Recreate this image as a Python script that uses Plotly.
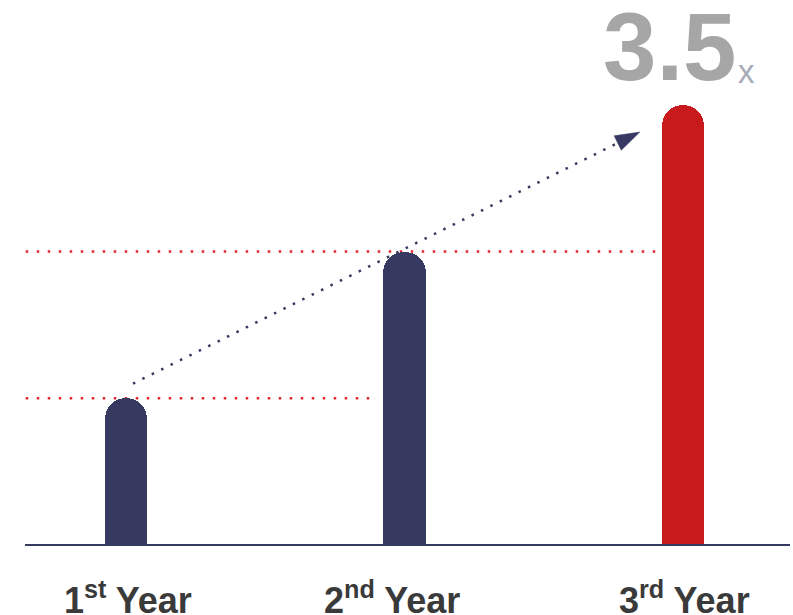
import plotly.graph_objects as go

# ---- data ----
categories = ["1st Year", "2nd Year", "3rd Year"]
tick_labels = ["1<sup>st</sup> Year", "2<sup>nd</sup> Year", "3<sup>rd</sup> Year"]
values = [1.0, 2.0, 3.0]
bar_colors = ["#363a60", "#363a60", "#c8191d"]
multiple_text = "3.5"
multiple_unit = "x"

xs = list(range(len(categories)))
bar_w = 0.151
NAVY = "#363a60"
RED = "#e3262d"
GRAY = "#a6a6a6"

fig = go.Figure()

fig.add_trace(go.Bar(
    x=xs, y=values, width=bar_w,
    marker=dict(color=bar_colors, line=dict(width=0), cornerradius="50%"),
    hoverinfo="skip",
))

# dotted arrow from first bar to last bar
fig.add_trace(go.Scatter(
    x=[xs[0] + 0.025, xs[2] - 0.155],
    y=[values[0] + 0.1, values[2] - 0.185],
    mode="lines+markers",
    line=dict(color=NAVY, width=2.5, dash="2.5px,8px"),
    marker=dict(symbol=["circle", "arrow"], size=[0, 26], color=NAVY, opacity=1,
                angleref="previous", line=dict(width=0.5, color=NAVY)),
    cliponaxis=False, hoverinfo="skip",
))

shapes = []
# baseline
shapes.append(dict(type="line", xref="paper", yref="y", x0=25/793, x1=790/793,
                   y0=0, y1=0, line=dict(color=NAVY, width=2), layer="above"))
# red reference lines at the first two bar heights
for i in range(2):
    shapes.append(dict(type="line", xref="x", yref="y",
                       x0=-0.36, x1=xs[i + 1] - bar_w / 2 - 0.022,
                       y0=values[i], y1=values[i],
                       line=dict(color=RED, width=2.5, dash="2.5px,8.5px"), layer="below"))

annotations = []
for i, lab in enumerate(tick_labels):
    annotations.append(dict(x=xs[i], y=-0.36, xref="x", yref="y", text="<b>" + lab + "</b>",
                            showarrow=False, xanchor="center", yanchor="middle",
                            xshift=(-12 if i == 1 else 2),
                            font=dict(family="Liberation Sans, Arial", size=36, color="#3a3a3a")))
annotations.append(dict(x=xs[2] - 0.05, y=values[2] + 0.395, xref="x", yref="y",
                        text="<b>" + multiple_text + "</b>", showarrow=False,
                        xanchor="center", yanchor="middle",
                        font=dict(family="Liberation Sans, Arial", size=96, color=GRAY)))
annotations.append(dict(x=xs[2] + 0.228, y=values[2] + 0.23, xref="x", yref="y",
                        text=multiple_unit, showarrow=False,
                        xanchor="center", yanchor="middle",
                        font=dict(family="Liberation Sans, Arial", size=33, color="#a9aab8")))

fig.update_layout(
    width=793, height=615,
    margin=dict(l=0, r=0, t=0, b=0),
    paper_bgcolor="white", plot_bgcolor="white",
    showlegend=False,
    xaxis=dict(range=[-0.4524, 2.395], visible=False, fixedrange=True),
    yaxis=dict(range=[-0.477, 3.715], visible=False, fixedrange=True),
    shapes=shapes, annotations=annotations,
    bargap=0,
)

fig.write_html("out.html")
